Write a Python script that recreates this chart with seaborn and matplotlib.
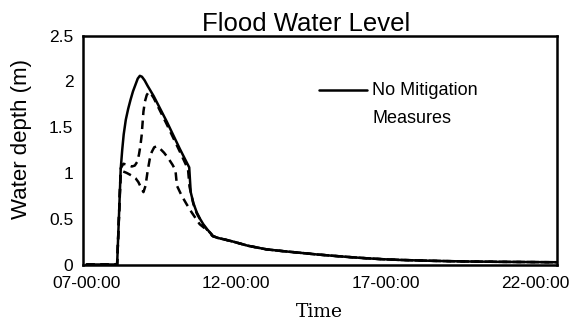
import matplotlib
matplotlib.use("Agg")
import matplotlib.pyplot as plt
import seaborn as sns
import pandas as pd

sns.set_style("white")
plt.rcParams['font.family'] = ['Liberation Sans', 'DejaVu Sans']
plt.rcParams.update({"text.color": "black", "axes.labelcolor": "black",
                     "xtick.color": "black", "ytick.color": "black"})

# ---------------- data (clock hours, water depth in m) ----------------
tail_hours = [11.23, 11.40, 11.60, 11.91, 12.40, 13.03, 13.60, 14.14, 14.70,
              15.25, 15.80, 16.37, 16.90, 17.48, 18.59, 19.72, 20.83, 21.70,
              22.60, 22.72]
tail_depth = [0.31, 0.29, 0.275, 0.25, 0.205, 0.165, 0.145, 0.128, 0.110,
              0.095, 0.081, 0.068, 0.058, 0.050, 0.040, 0.033, 0.029, 0.027,
              0.025, 0.025]

nomit_hours = [7.00, 8.03, 8.10, 8.15, 8.20, 8.25, 8.32, 8.40, 8.48, 8.56,
               8.64, 8.72, 8.79, 8.86, 8.95, 9.05, 9.25, 9.69, 10.13, 10.44,
               10.49, 10.58, 10.69, 10.80, 10.91, 11.05, 11.19]
nomit_depth = [0.0, 0.0, 0.60, 1.04, 1.25, 1.42, 1.58, 1.70, 1.80, 1.89,
               1.96, 2.03, 2.06, 2.05, 2.01, 1.95, 1.84, 1.56, 1.26, 1.06,
               0.79, 0.67, 0.57, 0.50, 0.44, 0.38, 0.33]

alt_a_hours = [7.00, 8.03, 8.10, 8.15, 8.24, 8.35, 8.52, 8.62, 8.70, 8.76,
               8.81, 8.85, 8.91, 8.96, 9.02, 9.08, 9.13, 9.25, 9.69, 10.13,
               10.40, 10.45, 10.58, 10.69, 10.91, 11.19]
alt_a_depth = [0.0, 0.0, 0.60, 1.05, 1.10, 1.09, 1.07, 1.08, 1.12, 1.20,
               1.30, 1.41, 1.67, 1.78, 1.85, 1.88, 1.88, 1.82, 1.53, 1.23,
               1.04, 0.85, 0.66, 0.56, 0.43, 0.32]

alt_b_hours = [7.00, 8.03, 8.10, 8.15, 8.20, 8.35, 8.52, 8.65, 8.74, 8.83,
               8.91, 8.98, 9.05, 9.12, 9.19, 9.27, 9.35, 9.45, 9.60, 9.74,
               9.88, 9.98, 10.03, 10.19, 10.35, 10.52, 10.79, 11.13]
alt_b_depth = [0.0, 0.0, 0.58, 1.00, 1.02, 1.00, 0.97, 0.94, 0.90, 0.84,
               0.79, 0.86, 1.02, 1.15, 1.23, 1.28, 1.29, 1.27, 1.22, 1.16,
               1.09, 1.03, 0.86, 0.75, 0.66, 0.57, 0.44, 0.35]

x_tick_hours = [7, 12, 17, 22]
x_tick_labels = ["07-00:00", "12-00:00", "17-00:00", "22-00:00"]
y_ticks = [0, 0.5, 1, 1.5, 2, 2.5]
y_tick_labels = ["0", "0.5", "1", "1.5", "2", "2.5"]
legend_label = "No Mitigation\nMeasures"

# ---------------- figure ----------------
fig = plt.figure(figsize=(5.81, 3.27), dpi=100)
ax = fig.add_axes([0.142, 0.1911, 0.816, 0.7003])

def frame(h, d):
    return pd.DataFrame({"hour": h + tail_hours, "depth": d + tail_depth})

lw = 1.8
dash = (0, (3.4, 2.2))
sns.lineplot(data=frame(alt_b_hours, alt_b_depth), x="hour", y="depth", ax=ax,
             color="black", lw=lw, estimator=None, linestyle=dash)
sns.lineplot(data=frame(alt_a_hours, alt_a_depth), x="hour", y="depth", ax=ax,
             color="black", lw=lw, estimator=None, linestyle=dash)
sns.lineplot(data=frame(nomit_hours, nomit_depth), x="hour", y="depth", ax=ax,
             color="black", lw=lw, estimator=None, label=legend_label)

ax.set_xlim(6.873, 22.72)
ax.set_ylim(0, 2.5)
ax.set_xticks(x_tick_hours)
ax.set_xticklabels(x_tick_labels)
ax.set_yticks(y_ticks)
ax.set_yticklabels(y_tick_labels)
ax.tick_params(axis="x", length=0, pad=8, labelsize=12.5)
ax.tick_params(axis="y", direction="in", length=4.5, width=1.0, pad=6.6,
               labelsize=12.5)

for s in ax.spines.values():
    s.set_visible(True)
    s.set_linewidth(1.8)
    s.set_color("black")

ax.set_title("Flood Water Level", fontsize=18.5, x=0.471, pad=3)
ax.set_ylabel("Water depth (m)", fontsize=16)
ax.yaxis.set_label_coords(-0.106, 0.548)
ax.set_xlabel("Time", fontsize=13.5, family="DejaVu Serif")
ax.xaxis.set_label_coords(0.5, -0.17)

leg = ax.legend(loc="upper left", bbox_to_anchor=(0.4987, 0.795),
                frameon=False, fontsize=13, borderpad=0, borderaxespad=0,
                handlelength=2.65, handletextpad=0.3)
leg.get_texts()[0].set_linespacing(1.8)
hl = leg.get_lines()[0]
hl.set_ydata([y + 11 for y in hl.get_ydata()])

fig.savefig("out.png", dpi=100, facecolor="white")
